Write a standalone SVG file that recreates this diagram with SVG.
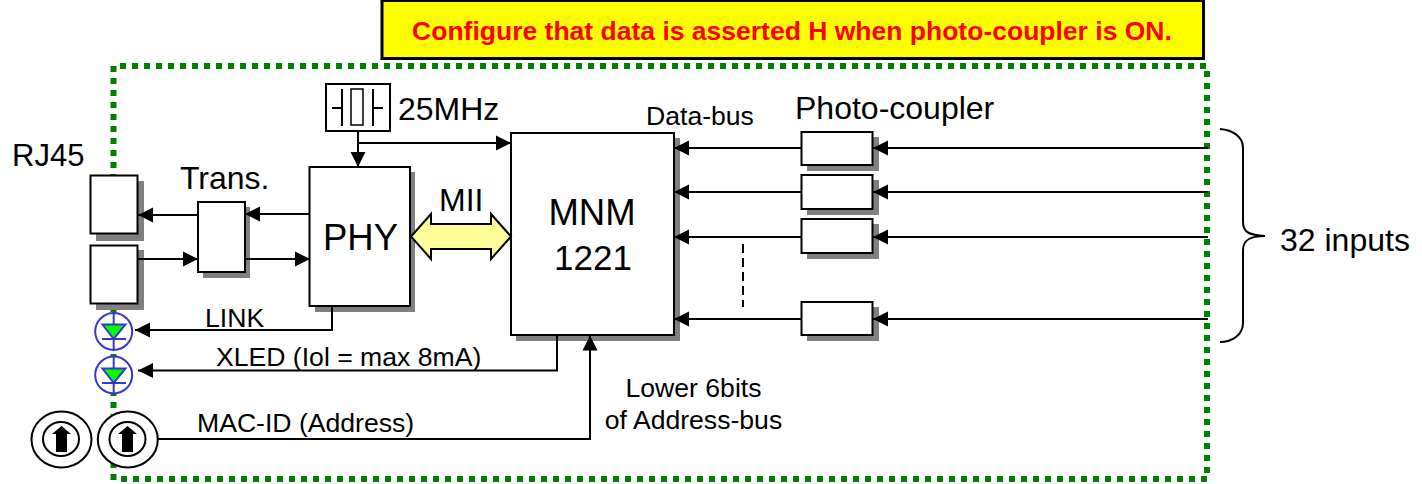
<svg xmlns="http://www.w3.org/2000/svg" width="1422" height="484" viewBox="0 0 1422 484">
<style>
text{font-family:"Liberation Sans",Arial,sans-serif;fill:#000}
.t28{font-size:32px}.t36{font-size:36.500px}.s{font-size:26.600px}
.box{fill:#fff;stroke:#000;stroke-width:2}
.sh{fill:#808080}
.ln{fill:none;stroke:#000;stroke-width:2}
.ar{fill:none;stroke:#000;stroke-width:2;marker-end:url(#a)}
.bl{fill:none;stroke:#3737cc;stroke-width:2}
.gr{fill:none;stroke:#008000;stroke-width:6;stroke-dasharray:6 6}
.led{fill:#0f0;stroke:#3737cc;stroke-width:2}
.sw{fill:#fff;stroke:#000;stroke-width:2}
</style>
<defs>
<marker id="a" markerUnits="userSpaceOnUse" markerWidth="16" markerHeight="16" refX="15" refY="8" orient="auto"><path d="M0,0.500L15,8L0,15.500z" fill="#000"/></marker>
</defs>
<rect width="1422" height="484" fill="#fff"/>
<g id="border"><path class="gr" d="M120,66H1207"/><path class="gr" d="M1207,71V476"/><path class="gr" d="M113.500,66V482"/><path class="gr" d="M121,479H1207"/></g>
<g id="note"><rect x="382" y="0.500" width="821.500" height="58" fill="#ff0" stroke="#000" stroke-width="3"/><text x="792" y="40" text-anchor="middle" font-size="26.500" font-weight="bold" style="fill:#f00">Configure that data is asserted H when photo-coupler is ON.</text></g>
<g id="rj45"><text x="12" y="166" font-size="31">RJ45</text>
<rect class="sh" x="96" y="181" width="48" height="60"/><rect class="box" x="90.500" y="175.500" width="47" height="58"/>
<rect class="sh" x="96" y="250" width="48" height="60"/><rect class="box" x="90.500" y="245.500" width="47" height="58"/></g>
<g id="trans"><text class="t28" x="180" y="189">Trans.</text><rect class="sh" x="203" y="207" width="47" height="71"/><rect class="box" x="198" y="202" width="47" height="70"/></g>
<g id="phy"><rect class="sh" x="315" y="172" width="100" height="140"/><rect class="box" x="309.500" y="167" width="100.500" height="139"/><text class="t36" x="360.500" y="250" text-anchor="middle">PHY</text></g>
<g id="mnm"><rect class="sh" x="516" y="138" width="164" height="203"/><rect class="box" x="511" y="133" width="163" height="202"/><text class="t36" x="592" y="225" text-anchor="middle">MNM</text><text x="593" y="270" font-size="35" text-anchor="middle">1221</text></g>
<g id="crystal"><rect class="box" x="326" y="84" width="64" height="47"/><path class="ln" d="M332,108H342M342,89V126M373,89V126M373,108H383"/><rect class="box" x="351" y="89" width="12" height="36" style="stroke-width:1.500"/><text class="t28" x="398" y="120">25MHz</text></g>
<g id="photocouplers"><text class="t28" x="795" y="118.500">Photo-coupler</text>
<rect class="sh" x="807" y="137" width="72" height="34"/><rect class="box" x="801.500" y="132" width="71" height="33"/>
<rect class="sh" x="807" y="180" width="72" height="35"/><rect class="box" x="801.500" y="175" width="71" height="34"/>
<rect class="sh" x="807" y="224" width="72" height="35"/><rect class="box" x="801.500" y="219" width="71" height="34"/>
<rect class="sh" x="807" y="307" width="72" height="34"/><rect class="box" x="801.500" y="302" width="71" height="33"/></g>
<g id="leds">
<g id="led1"><circle class="bl" cx="113.700" cy="331.500" r="18.500" style="fill:#fff"/><path class="bl" d="M113.700,313V350M102,339H126"/><path class="led" d="M102.500,324.500H125.500L113.700,339z"/></g>
<g id="led2"><circle class="bl" cx="113.700" cy="375" r="18.500" style="fill:#fff"/><path class="bl" d="M113.700,357V394M102,383H126"/><path class="led" d="M102.500,368.500H125.500L113.700,383z"/></g>
</g>
<g id="switches">
<g id="sw1"><ellipse class="sw" cx="61.500" cy="439.500" rx="30" ry="28"/><ellipse class="sw" cx="61" cy="439" rx="18" ry="17"/><path d="M61.500,426L71,434H67V452H56V434H52z"/></g>
<g id="sw2"><ellipse class="sw" cx="127.800" cy="439.500" rx="30" ry="28"/><ellipse class="sw" cx="127.500" cy="439" rx="18" ry="17"/><path d="M127.500,426L137,434H133V452H122V434H118z"/></g>
</g>
<g id="connectors">
<path class="ar" d="M198,215H138"/>
<path class="ar" d="M310,214H245"/>
<path class="ar" d="M138,259H198"/>
<path class="ar" d="M245,259H310"/>
<path class="ar" d="M358,131V167"/>
<path class="ar" d="M357,143H511"/>
<path d="M411,236.500L431,214V224H491V214L511,236.500L491,259V249H431V259z" fill="#ffff99" stroke="#000" stroke-width="2"/>
<path class="ar" d="M801,148H674"/><path class="ar" d="M801,192H674"/><path class="ar" d="M801,237H674"/><path class="ar" d="M801,319H674"/>
<path class="ar" d="M1208,148H873"/><path class="ar" d="M1208,192H873"/><path class="ar" d="M1208,237H873"/><path class="ar" d="M1208,319H873"/>
<path d="M743,244V307" fill="none" stroke="#000" stroke-width="2" stroke-dasharray="9 5"/>
<path class="ar" d="M332,306V330H135"/>
<path class="ar" d="M557,335V370.500H138"/>
<path class="ar" d="M157,439H590V335.500"/>
<path class="ln" d="M1220,129C1232,130 1243,136 1243,148V222C1243,233 1250,235 1265,236C1250,236 1243,240 1243,250V323C1243,335 1232,342 1220,342"/>
</g>
<g id="labels">
<text class="s" x="646" y="125">Data-bus</text>
<text class="t28" x="439" y="210.500">MII</text>
<text class="s" x="205" y="326.500">LINK</text>
<text class="s" x="216" y="366">XLED (Iol = max 8mA)</text>
<text class="s" x="197" y="432">MAC-ID (Address)</text>
<text class="s" x="693.500" y="397" text-anchor="middle">Lower 6bits</text>
<text class="s" x="693.500" y="428.500" text-anchor="middle">of Address-bus</text>
<text class="t28" x="1280" y="251">32 inputs</text>
</g>
</svg>
